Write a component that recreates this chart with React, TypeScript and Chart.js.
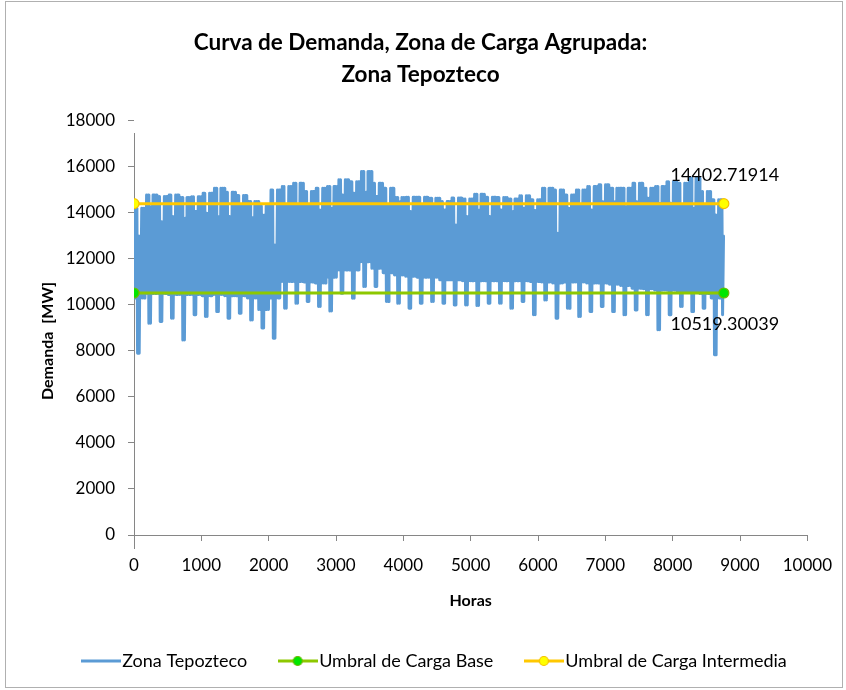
import React, { useEffect, useRef } from "react";
import { Chart, registerables } from "chart.js";

Chart.register(...registerables);

// ---------- text ----------
const TITLE_LINES = ["Curva de Demanda, Zona de Carga Agrupada:", "Zona Tepozteco"];
const X_TITLE = "Horas";
const Y_TITLE = "Demanda  [MW]";
const SERIES_NAMES = ["Zona Tepozteco", "Umbral de Carga Base", "Umbral de Carga Intermedia"];

// ---------- axes ----------
const X_MIN = 0;
const X_MAX = 10000;
const X_STEP = 1000;
const Y_MIN = 0;
const Y_MAX = 18000;
const Y_STEP = 2000;

// ---------- thresholds ----------
const HOURS_IN_YEAR = 8760;
const BASE_THRESHOLD = 10519.30039;
const INTERMEDIATE_THRESHOLD = 14402.71914;

// ---------- demand, read per week (MW) ----------
const weekdayPeak = [
  14200, 14780, 14710, 14780, 14670, 14700, 14860, 15070, 14900, 14760,
  14500, 14300, 15000, 15150, 15290, 14930, 15070, 15150, 15440, 15360,
  15800, 15290, 15070, 14670, 14680, 14680, 14640, 14500, 14650, 14610,
  14810, 14680, 14670, 14600, 14750, 14570, 15070, 15000, 14780, 15000,
  15150, 15220, 15070, 15070, 15290, 15070, 15150, 15360, 15290, 15510,
  14930, 14570, 13000,
];
const weekdayTrough = [
  10300, 10500, 10500, 10450, 10450, 10450, 10400, 10450, 10400, 10400,
  10300, 9800, 10300, 11020, 11020, 11000, 10950, 11200, 11520, 11520,
  11880, 11600, 11400, 11300, 11250, 11200, 11200, 11090, 11090, 11050,
  11050, 11050, 11050, 11050, 11050, 11020, 11000, 10950, 11000, 11000,
  10950, 10950, 10900, 10850, 10730, 10700, 10650, 10650, 10600, 10600,
  10500, 10300, 9570,
];
const weekendPeak = [
  13000, 14270, 13620, 13840, 13770, 14060, 13990, 13840, 13840, 14350,
  13800, 13900, 12610, 14350, 14350, 14300, 14130, 14200, 14780, 14860,
  14900, 14710, 14350, 14490, 14060, 14280, 14300, 14130, 13480, 13840,
  14130, 13840, 14130, 14060, 14200, 14100, 14350, 13120, 14200, 14350,
  14130, 14490, 14490, 14280, 14490, 14640, 14420, 14420, 14350, 14200,
  14350, 13910, 13000,
];
const weekendTrough = [
  7900, 9200, 9280, 9420, 8480, 9570, 9500, 9710, 9420, 9640,
  9350, 9000, 8550, 9860, 10070, 10150, 9930, 9740, 10510, 10290,
  10800, 10800, 10150, 10070, 9860, 10070, 10150, 10070, 10000, 10000,
  9980, 10070, 10070, 9860, 10150, 9570, 10220, 9420, 9860, 9500,
  9710, 9930, 9710, 9570, 9780, 9570, 8920, 9570, 9930, 9710,
  9860, 7830, 9570,
];

const FONT = "Lato, 'Open Sans', sans-serif";

const BLUE = "#5B9BD5";
const GREEN_LINE = "#8DC800";
const GREEN_FILL = "#00E600";
const GREEN_EDGE = "#6FB800";
const YELLOW_LINE = "#FFC800";
const YELLOW_FILL = "#FFFF00";
const YELLOW_EDGE = "#F5C000";
const AXIS_GREY = "#868686";

function buildDemand() {
  const pts: { x: number; y: number }[] = [];
  for (let w = 0; w < weekdayPeak.length; w++) {
    for (let d = 0; d < 7; d++) {
      const day = w * 7 + d;
      if (day * 24 >= HOURS_IN_YEAR) break;
      const weekend = d === 2 || d === 3;
      pts.push({ x: day * 24 + 5, y: weekend ? weekendTrough[w] : weekdayTrough[w] });
      pts.push({ x: day * 24 + 19, y: weekend ? weekendPeak[w] : weekdayPeak[w] });
    }
  }
  return pts;
}

function legendIcon(line: string, fill?: string, edge?: string) {
  const c = document.createElement("canvas");
  c.width = 40;
  c.height = 14;
  const ctx = c.getContext("2d")!;
  ctx.strokeStyle = line;
  ctx.lineWidth = 3;
  ctx.beginPath();
  ctx.moveTo(0, 7);
  ctx.lineTo(40, 7);
  ctx.stroke();
  if (fill) {
    ctx.beginPath();
    ctx.arc(20, 7, 4.5, 0, Math.PI * 2);
    ctx.fillStyle = fill;
    ctx.fill();
    ctx.lineWidth = 1.2;
    ctx.strokeStyle = edge || line;
    ctx.stroke();
  }
  return c;
}

export default function App() {
  const ref = useRef<HTMLCanvasElement | null>(null);

  useEffect(() => {
    if (!ref.current) return;
    const icons = [
      legendIcon(BLUE),
      legendIcon(GREEN_LINE, GREEN_FILL, GREEN_EDGE),
      legendIcon(YELLOW_LINE, YELLOW_FILL, YELLOW_EDGE),
    ];

    const borderPlugin = {
      id: "outerBorder",
      beforeDraw(chart: any) {
        const ctx = chart.ctx;
        ctx.save();
        ctx.fillStyle = "#ffffff";
        ctx.fillRect(0, 0, chart.width, chart.height);
        ctx.strokeStyle = "#B0B0B0";
        ctx.lineWidth = 1;
        ctx.strokeRect(5.5, 1.5, chart.width - 9, chart.height - 4);
        ctx.restore();
      },
    };

    const layoutTweak = {
      id: "layoutTweak",
      afterLayout(chart: any) {
        const lg = chart.legend;
        if (lg) {
          lg.top -= 10;
          lg.bottom -= 10;
          lg.left += 17;
          lg.right += 17;
        }
        const ys = chart.scales.y;
        if (ys) {
          ys.top += 13;
          ys.bottom += 13;
        }
      },
    };

    const valueLabels = {
      id: "valueLabels",
      afterDatasetsDraw(chart: any) {
        const ctx = chart.ctx;
        const specs: [number, number][] = [
          [2, -28],
          [1, 31],
        ];
        ctx.save();
        ctx.font = `18px ${FONT}`;
        ctx.fillStyle = "#000";
        ctx.textAlign = "center";
        ctx.textBaseline = "middle";
        for (const [di, dy] of specs) {
          const meta = chart.getDatasetMeta(di);
          const last = meta.data.length - 1;
          const el = meta.data[last];
          const v = chart.data.datasets[di].data[last].y;
          ctx.fillText(String(v), el.x + 1, el.y + dy);
        }
        ctx.restore();
      },
    };

    const chart = new Chart(ref.current, {
      type: "line",
      data: {
        datasets: [
          {
            label: SERIES_NAMES[0],
            data: buildDemand(),
            borderColor: BLUE,
            backgroundColor: BLUE,
            borderWidth: 3,
            borderJoinStyle: "round",
            borderCapStyle: "round",
            pointRadius: 0,
            tension: 0,
            order: 3,
          },
          {
            label: SERIES_NAMES[1],
            data: [
              { x: 0, y: BASE_THRESHOLD },
              { x: HOURS_IN_YEAR, y: BASE_THRESHOLD },
            ],
            borderColor: GREEN_LINE,
            borderWidth: 3,
            pointRadius: 5,
            pointBackgroundColor: GREEN_FILL,
            pointBorderColor: GREEN_EDGE,
            pointBorderWidth: 1.2,
            order: 2,
          },
          {
            label: SERIES_NAMES[2],
            data: [
              { x: 0, y: INTERMEDIATE_THRESHOLD },
              { x: HOURS_IN_YEAR, y: INTERMEDIATE_THRESHOLD },
            ],
            borderColor: YELLOW_LINE,
            borderWidth: 3,
            pointRadius: 5,
            pointBackgroundColor: YELLOW_FILL,
            pointBorderColor: YELLOW_EDGE,
            pointBorderWidth: 1.2,
            order: 1,
          },
        ],
      } as any,
      options: {
        responsive: false,
        animation: false,
        devicePixelRatio: 1,
        layout: { padding: { left: 31, right: 36, top: 17, bottom: 0 } },
        plugins: {
          tooltip: { enabled: false },
          title: {
            display: true,
            text: TITLE_LINES,
            color: "#000",
            font: { family: FONT, size: 22.5, weight: "bold", lineHeight: 1.42 },
            padding: { top: 10, bottom: 30 },
          },
          legend: {
            display: true,
            position: "bottom",
            labels: {
              usePointStyle: true,
              pointStyleWidth: 25,
              padding: 38,
              color: "#000",
              font: { family: FONT, size: 18 },
              sort: (a: any, b: any) => a.datasetIndex - b.datasetIndex,
              generateLabels: (ch: any) =>
                ch.data.datasets.map((ds: any, i: number) => ({
                  text: ds.label,
                  datasetIndex: i,
                  pointStyle: icons[i],
                  fillStyle: "rgba(0,0,0,0)",
                  strokeStyle: "rgba(0,0,0,0)",
                  lineWidth: 0,
                  hidden: false,
                  fontColor: "#000",
                })),
            },
          },
        },
        scales: {
          x: {
            type: "linear",
            min: X_MIN,
            max: X_MAX,
            afterFit: (s: any) => {
              s.height = 89;
            },
            ticks: {
              stepSize: X_STEP,
              color: "#000",
              padding: 14,
              maxRotation: 0,
              font: { family: FONT, size: 17 },
              callback: (v: any) => String(v),
            },
            grid: { display: true, drawOnChartArea: false, drawTicks: true, tickLength: 6, color: AXIS_GREY },
            border: { display: true, color: AXIS_GREY, width: 1 },
            title: {
              display: true,
              text: X_TITLE,
              color: "#000",
              font: { family: FONT, size: 16, weight: "bold", lineHeight: 1.0 },
              padding: { top: 0, bottom: 15 },
            },
          },
          y: {
            type: "linear",
            min: Y_MIN,
            max: Y_MAX,
            afterFit: (s: any) => {
              s.width = 103;
            },
            ticks: {
              stepSize: Y_STEP,
              color: "#000",
              padding: 13,
              font: { family: FONT, size: 17 },
              callback: (v: any) => String(v),
            },
            grid: { display: true, drawOnChartArea: false, drawTicks: true, tickLength: 6, color: AXIS_GREY },
            border: { display: true, color: AXIS_GREY, width: 1 },
            title: {
              display: true,
              text: Y_TITLE,
              color: "#000",
              font: { family: FONT, size: 16, weight: "bold", lineHeight: 1.2 },
              padding: { top: 7, bottom: 0 },
            },
          },
        },
      } as any,
      plugins: [borderPlugin, layoutTweak, valueLabels],
    });
    return () => chart.destroy();
  }, []);

  return (
    <div style={{ position: "absolute", left: 0, top: 0, width: 846, height: 690 }}>
      <canvas ref={ref} width={846} height={690} style={{ display: "block" }} />
    </div>
  );
}
